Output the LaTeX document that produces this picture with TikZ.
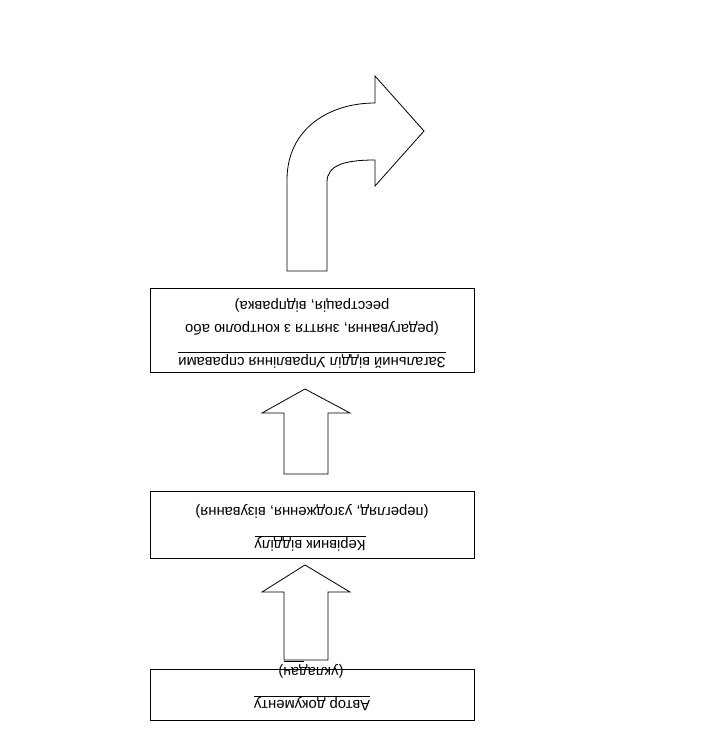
\documentclass[tikz,border=0pt]{standalone}
\usepackage{fontspec}
\setmainfont{Liberation Sans}
\begin{document}
\begin{tikzpicture}[x=1pt,y=-1pt,
  box/.style={draw=black,line width=0.8pt,fill=white},
  arrowshape/.style={draw=black,line width=0.8pt,fill=white,line join=miter},
  lbl/.style={rotate=180,inner sep=0pt,font=\fontsize{14.8}{17}\selectfont}]
\useasboundingbox (0,0) rectangle (713,754);
% boxes
\draw[box] (150,288) rectangle (474,372);
\draw[box] (150,491) rectangle (474,558);
\draw[box] (150,669) rectangle (474,720);
% up arrows
\draw[arrowshape] (284,474) -- (284,413) -- (262,413) -- (305,389) -- (350,413) -- (328,413) -- (328,474) -- cycle;
\draw[arrowshape] (284,660) -- (284,592) -- (262,592) -- (305,565) -- (350,592) -- (328,592) -- (328,660) -- cycle;
% curved arrow
\draw[arrowshape] (287,271) -- (287,180) .. controls (287,128) and (330,103) .. (375,103)
  -- (375,76) -- (424,131) -- (375,186) -- (375,160)
  .. controls (345,160) and (327,165) .. (327,182) -- (327,271) -- cycle;
% texts (printed upside down)
\node[lbl] (t1) at (312,360) {\underline{Загальний відділ Управління справами}};
\node[lbl] (t2) at (312,328) {(редагування, зняття з контролю або};
\node[lbl] (t3) at (312,305) {реєстрація, відправка)};
\node[lbl] (t4) at (310,543) {\underline{Керівник відділу}};
\node[lbl] (t5) at (312,511) {(перегляд, узгодження, візування)};
\node[lbl] (t6) at (312,703) {\underline{Автор документу}};
\node[lbl] (t7) at (311,671) {(укладач)};
\draw[line width=0.8pt] (284,661) -- (304,661);
\end{tikzpicture}
\end{document}
